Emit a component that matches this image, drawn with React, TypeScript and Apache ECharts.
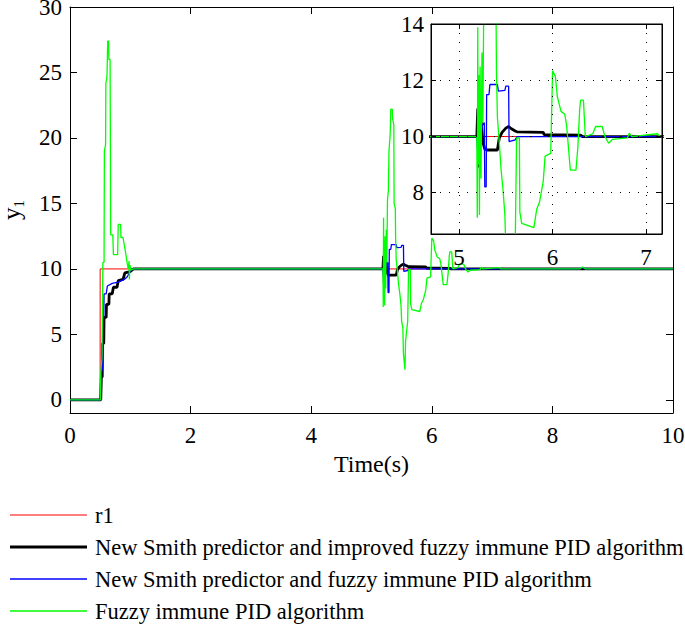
import React, { useEffect, useRef } from 'react';
import * as echarts from 'echarts';

const FONT = 'Liberation Serif';

const seriesNames = [
  'r1',
  'New Smith predictor and improved fuzzy immune PID algorithm',
  'New Smith predictor and fuzzy immune PID algorithm',
  'Fuzzy immune PID algorithm',
];
const seriesColors = ['#ff0000', '#000000', '#0000ff', '#00ff00'];
const seriesWidths = [1, 2.8, 1.3, 1.3];
const legendRowCenters = [515, 547, 579, 611];

const mainXRange = [0, 10];
const mainYRange = [-1, 30];
const insetXRange = [4.7, 7.17];
const insetYRange = [6.52, 14.02];

const r1Points = [[0, 0], [0.5, 0], [0.5, 10], [10, 10]];

const improvedPoints = [
  [0, 0], [0.51, 0], [0.52, 1.75], [0.535, 1.75], [0.54, 4.3], [0.56, 4.3], [0.565, 6.3], [0.6, 6.3],
  [0.605, 7.3], [0.645, 7.3], [0.65, 8.1], [0.7, 8.1], [0.72, 8.6], [0.78, 8.6], [0.8, 9.1], [0.88, 9.2],
  [0.91, 9.7], [1.0, 9.8], [1.05, 10], [5.19, 10], [5.2, 11], [5.212, 8.9], [5.225, 10.9], [5.24, 10.4],
  [5.255, 9.8], [5.275, 9.55], [5.3, 9.52], [5.41, 9.52], [5.43, 9.95], [5.46, 10.15], [5.5, 10.3],
  [5.53, 10.36], [5.56, 10.28], [5.6, 10.2], [5.62, 10.17], [5.9, 10.15], [5.91, 10.07], [6.3, 10.05],
  [6.32, 10], [10, 10],
];

const fuzzySmithPoints = [
  [0, 0], [0.51, 0], [0.525, 2.3], [0.54, 2.3], [0.545, 6.3], [0.56, 6.3], [0.565, 8.1], [0.6, 8.1],
  [0.62, 8.7], [0.7, 8.9], [0.8, 9.0], [0.9, 9.2], [0.95, 9.4], [1.02, 10], [5.19, 10], [5.2, 9.4],
  [5.215, 10.6], [5.23, 9.9], [5.25, 10.4], [5.27, 10.5], [5.275, 8.2], [5.29, 8.2], [5.295, 11.5],
  [5.32, 11.5], [5.33, 11.86], [5.41, 11.86], [5.42, 11.62], [5.49, 11.65], [5.5, 11.8], [5.53, 11.8],
  [5.535, 9.82], [5.6, 9.88], [5.62, 10], [8.45, 10], [8.5, 10.1], [8.55, 10], [10, 10],
];

const fuzzyPoints = [
  [0, 0], [0.505, 0], [0.51, 2], [0.53, 3.2], [0.545, 10.5], [0.565, 10.5], [0.57, 19], [0.59, 19.5],
  [0.595, 24.2], [0.61, 24.5], [0.615, 25], [0.625, 27.4], [0.64, 27.4], [0.645, 26], [0.665, 26],
  [0.675, 12.6], [0.71, 12.6], [0.72, 11.1], [0.79, 11.1], [0.8, 13.4], [0.84, 13.4], [0.845, 12.4],
  [0.88, 12.4], [0.89, 12.1], [0.92, 11.3], [0.95, 10.4], [0.965, 10], [0.98, 10.6], [0.985, 9.2],
  [0.995, 10.3], [1.01, 9.9], [1.05, 10], [5.19, 10], [5.195, 7.1], [5.2, 13.9], [5.205, 9], [5.21, 12.2],
  [5.218, 7.2], [5.225, 12.5], [5.235, 8.5], [5.245, 13], [5.255, 10.5], [5.265, 15.3], [5.28, 16],
  [5.29, 19], [5.31, 20.3], [5.32, 22.2], [5.345, 22.2], [5.35, 21.5], [5.37, 21], [5.375, 15],
  [5.395, 14.6], [5.4, 12.3], [5.41, 10.7], [5.43, 9.8], [5.45, 8.8], [5.47, 8.1], [5.49, 7.2], [5.5, 6],
  [5.52, 5.5], [5.53, 3.5], [5.555, 2.3], [5.565, 4.5], [5.6, 6.0], [5.615, 9.95], [5.645, 9.95],
  [5.65, 7.3], [5.67, 6.9], [5.8, 6.75], [5.83, 7.4], [5.86, 7.65], [5.9, 8.4], [5.92, 9.3], [5.98, 9.4],
  [6.0, 12.35], [6.03, 12.15], [6.05, 11.44], [6.09, 10.9], [6.13, 10.8], [6.15, 10.4], [6.17, 9.6],
  [6.19, 8.8], [6.25, 8.8], [6.27, 9.6], [6.29, 11.0], [6.3, 11.3], [6.33, 11.3], [6.35, 10], [6.43, 10.1],
  [6.46, 10.36], [6.53, 10.36], [6.56, 10], [6.6, 9.76], [6.64, 9.9], [6.8, 9.95], [6.82, 10.12],
  [6.85, 10], [7.12, 10.1], [7.15, 10], [8.45, 10], [8.5, 10.15], [8.55, 10], [10, 10],
];

const allPoints = [r1Points, improvedPoints, fuzzySmithPoints, fuzzyPoints];

const black = '#000';
const labelStyle = { fontFamily: FONT, fontSize: 23, color: black };

function isMultiple(v: number, step: number) {
  const r = v / step;
  return Math.abs(r - Math.round(r)) < 1e-6;
}

function axisBase(extra: any) {
  return {
    type: 'value',
    axisLine: { show: true, onZero: false, lineStyle: { color: black, width: 1 } },
    splitLine: { show: false },
    ...extra,
  };
}

export default function App() {
  const ref = useRef<HTMLDivElement>(null);
  useEffect(() => {
    if (!ref.current) return;
    const chart = echarts.init(ref.current, undefined, { renderer: 'svg' });
    const dotted = { show: true, lineStyle: { color: black, width: 1, type: [1, 8] } };

    const xAxis = [
      axisBase({
        gridIndex: 0, min: mainXRange[0], max: mainXRange[1], interval: 2, position: 'bottom',
        axisTick: { show: true, inside: true, length: 7, lineStyle: { color: black } },
        axisLabel: { ...labelStyle, margin: 11 },
        name: 'Time(s)', nameLocation: 'middle', nameGap: 37,
        nameTextStyle: { fontFamily: FONT, fontSize: 24, color: black },
      }),
      axisBase({
        gridIndex: 0, min: mainXRange[0], max: mainXRange[1], interval: 2, position: 'top',
        axisTick: { show: true, inside: true, length: 7, lineStyle: { color: black } },
        axisLabel: { show: false },
      }),
      axisBase({
        gridIndex: 1, min: insetXRange[0], max: insetXRange[1], splitNumber: 3, position: 'bottom', z: 12,
        axisTick: { show: true, inside: true, length: 5, lineStyle: { color: black } },
        axisLabel: { ...labelStyle, margin: 12, formatter: (v: number) => (isMultiple(v, 1) ? String(Math.round(v)) : '') },
        splitLine: dotted,
      }),
      axisBase({
        gridIndex: 1, min: insetXRange[0], max: insetXRange[1], splitNumber: 3, position: 'top', z: 12,
        axisTick: { show: true, inside: true, length: 5, lineStyle: { color: black } },
        axisLabel: { show: false },
      }),
    ];
    const yAxis = [
      axisBase({
        gridIndex: 0, min: mainYRange[0], max: mainYRange[1], splitNumber: 6, position: 'left',
        axisTick: { show: true, inside: true, length: 7, lineStyle: { color: black } },
        axisLabel: {
          ...labelStyle, margin: 8, lineHeight: 16, padding: [3, 0, 0, 0],
          formatter: (v: number) => (isMultiple(v, 5) ? String(Math.round(v)) : ''),
        },
        name: '{y|y}{s|1}', nameLocation: 'middle', nameGap: 44, nameRotate: 90,
        nameTextStyle: {
          fontFamily: FONT, color: black,
          rich: {
            y: { fontFamily: FONT, fontSize: 25, lineHeight: 27, verticalAlign: 'top', color: black },
            s: { fontFamily: FONT, fontSize: 15, lineHeight: 27, verticalAlign: 'bottom', color: black },
          },
        },
      }),
      axisBase({
        gridIndex: 0, min: mainYRange[0], max: mainYRange[1], splitNumber: 6, position: 'right',
        axisTick: { show: true, inside: true, length: 7, lineStyle: { color: black } },
        axisLabel: { show: false },
      }),
      axisBase({
        gridIndex: 1, min: insetYRange[0], max: insetYRange[1], splitNumber: 4, position: 'left', z: 12,
        axisTick: { show: true, inside: true, length: 5, lineStyle: { color: black } },
        axisLabel: { ...labelStyle, margin: 7, formatter: (v: number) => (isMultiple(v, 2) ? String(Math.round(v)) : '') },
        splitLine: dotted,
      }),
      axisBase({
        gridIndex: 1, min: insetYRange[0], max: insetYRange[1], splitNumber: 4, position: 'right', z: 12,
        axisTick: { show: true, inside: true, length: 5, lineStyle: { color: black } },
        axisLabel: { show: false },
      }),
    ];

    const series: any[] = [];
    allPoints.forEach((pts, i) => {
      series.push({
        type: 'line', name: seriesNames[i], xAxisIndex: 0, yAxisIndex: 0, data: pts,
        symbol: 'none', z: 2 + i, silent: true, clip: true,
        lineStyle: { color: seriesColors[i], width: seriesWidths[i] },
        itemStyle: { color: seriesColors[i] },
      });
    });
    allPoints.forEach((pts, i) => {
      series.push({
        type: 'line', name: seriesNames[i], xAxisIndex: 2, yAxisIndex: 2, data: pts,
        symbol: 'none', z: 11, silent: true, clip: true,
        lineStyle: { color: seriesColors[i], width: seriesWidths[i] },
        itemStyle: { color: seriesColors[i] },
      });
    });

    const legend = seriesNames.map((name, i) => ({
      orient: 'horizontal', left: 10, top: legendRowCenters[i] - 13, height: 26,
      itemWidth: 77, itemHeight: Math.max(1, seriesWidths[i]), itemGap: 0,
      icon: 'rect', selectedMode: false, padding: 0,
      textStyle: { fontFamily: FONT, fontSize: 22.5, color: black, lineHeight: 26, padding: [0, 0, 0, 3] },
      itemStyle: { color: seriesColors[i] },
      data: [{ name }],
    }));

    chart.setOption({
      animation: false,
      backgroundColor: '#fff',
      textStyle: { fontFamily: FONT },
      grid: [
        { left: 70, top: 7, width: 603, height: 406, show: false, outerBoundsMode: 'none', containLabel: false },
        { left: 431, top: 24, width: 231, height: 210, show: true, backgroundColor: '#fff', borderColor: black, borderWidth: 1, z: 10, outerBoundsMode: 'none', containLabel: false },
      ],
      legend,
      xAxis,
      yAxis,
      series,
    });
    return () => chart.dispose();
  }, []);
  return <div ref={ref} style={{ position: 'absolute', left: 0, top: 0, width: 685, height: 627 }} />;
}
